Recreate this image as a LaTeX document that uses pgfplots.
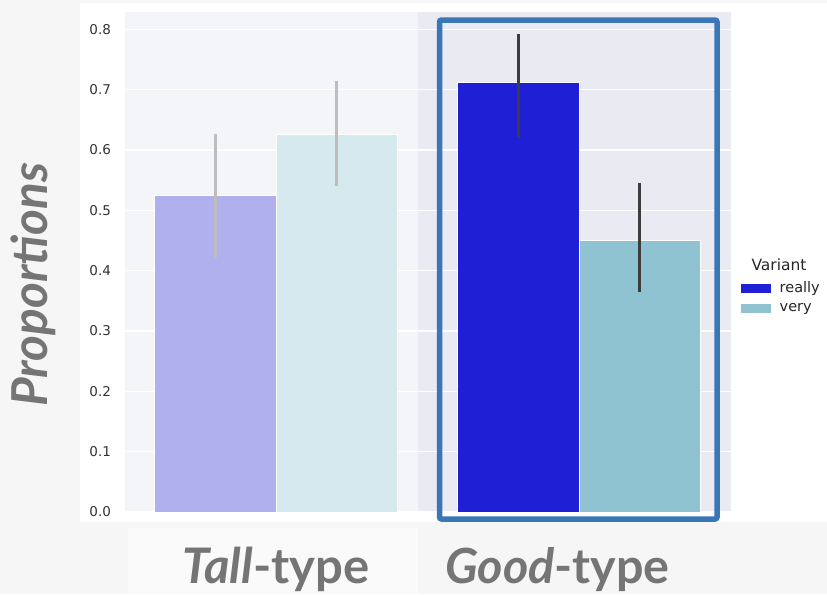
\documentclass[border=0pt]{standalone}
\usepackage{pgfplots}
\pgfplotsset{compat=1.18}
\usepackage{fontspec}
\setmainfont{DejaVu Sans}
\newfontfamily\lab{Lato}
\definecolor{bgfig}{HTML}{F6F6F6}
\definecolor{botbox}{HTML}{FAFAFA}
\definecolor{axbg}{HTML}{EAEAF2}
\definecolor{axbgl}{HTML}{F4F5F8}
\definecolor{tallreally}{HTML}{B0B0EF}
\definecolor{tallvery}{HTML}{D5E9EE}
\definecolor{goodreally}{HTML}{1F1FD6}
\definecolor{goodvery}{HTML}{8FC3D1}
\definecolor{errlight}{HTML}{BDBDBD}
\definecolor{errdark}{HTML}{3D3D3D}
\definecolor{boxblue}{HTML}{3A77B6}
\definecolor{labgray}{HTML}{757575}
\begin{document}
\begin{tikzpicture}
\begin{scope}[x=1pt,y=-1pt]
\fill[bgfig] (0,0) rectangle (827,594);
\useasboundingbox (0,0) rectangle (827,594);
\fill[white] (80,3) rectangle (827,522);
\fill[botbox] (128,528) rectangle (418,594);
\fill[axbg] (418,12) rectangle (730.5,512);
\fill[axbgl] (124.5,12) rectangle (418,512);
\end{scope}
\begin{axis}[
  at={(124.5pt,-512pt)}, anchor=south west,
  scale only axis, width=606pt, height=500pt,
  xmin=-0.5, xmax=1.5, ymin=0, ymax=0.8286,
  axis line style={draw=none},
  major tick length=0pt,
  xtick=\empty,
  ytick={0,0.1,0.2,0.3,0.4,0.5,0.6,0.7,0.8},
  yticklabel style={font=\fontsize{13.5}{15}\selectfont, text=black!80, xshift=-10pt,
    /pgf/number format/fixed, /pgf/number format/fixed zerofill, /pgf/number format/precision=1},
  /pgf/number format/assume math mode=true,
  ymajorgrids, grid style={white, line width=1.2pt},
  legend style={at={(1.0175,0.465)}, anchor=north west, draw=none, fill=none,
    font=\fontsize{14.5}{16}\selectfont, text=black!85, row sep=5pt, inner sep=0pt},
  legend cell align=left,
]
% bars
\addplot[ybar, bar width=121.2pt, bar shift=-60.6pt, fill=tallreally, draw=white, line width=1pt, forget plot] coordinates {(0,0.525)};
\addplot[ybar, bar width=121.2pt, bar shift=60.6pt, fill=tallvery, draw=white, line width=1pt, forget plot] coordinates {(0,0.626)};
\addplot[ybar, bar width=121.2pt, bar shift=-60.6pt, fill=goodreally, draw=white, line width=1pt, forget plot] coordinates {(1,0.711)};
\addplot[ybar, bar width=121.2pt, bar shift=60.6pt, fill=goodvery, draw=white, line width=1pt, forget plot] coordinates {(1,0.450)};
% error bars
\addplot[errlight, line width=3.5pt, forget plot] coordinates {(-0.2,0.421) (-0.2,0.626)};
\addplot[errlight, line width=3.5pt, forget plot] coordinates {(0.2,0.540) (0.2,0.714)};
\addplot[errdark, line width=3.5pt, forget plot] coordinates {(0.8,0.620) (0.8,0.792)};
\addplot[errdark, line width=3.5pt, forget plot] coordinates {(1.2,0.364) (1.2,0.545)};
% legend
\addlegendimage{legend image code/.code={\fill[goodreally] (0pt,-4pt) rectangle (29pt,4pt);}}
\addlegendentry{\hspace{7pt}really}
\addlegendimage{legend image code/.code={\fill[goodvery] (0pt,-4pt) rectangle (29pt,4pt);}}
\addlegendentry{\hspace{7pt}very}
\end{axis}
\begin{scope}[x=1pt,y=-1pt]
\draw[boxblue, line width=5.5pt, rounded corners=2pt] (439.5,20) rectangle (717,519);
\node[font=\fontsize{15.5}{17}\selectfont, text=black!85] at (779,265) {Variant};
\node[rotate=90, font=\lab\bfseries\itshape\fontsize{49.5}{55}\selectfont, text=labgray] at (33,285) {Proportions};
\node[anchor=base, font=\lab\bfseries\fontsize{49}{56}\selectfont, text=labgray] at (276,583) {{\itshape Tall}-type};
\node[anchor=base, font=\lab\bfseries\fontsize{48.5}{56}\selectfont, text=labgray] at (557.5,583) {{\itshape Good}-type};
\end{scope}
\end{tikzpicture}
\end{document}
